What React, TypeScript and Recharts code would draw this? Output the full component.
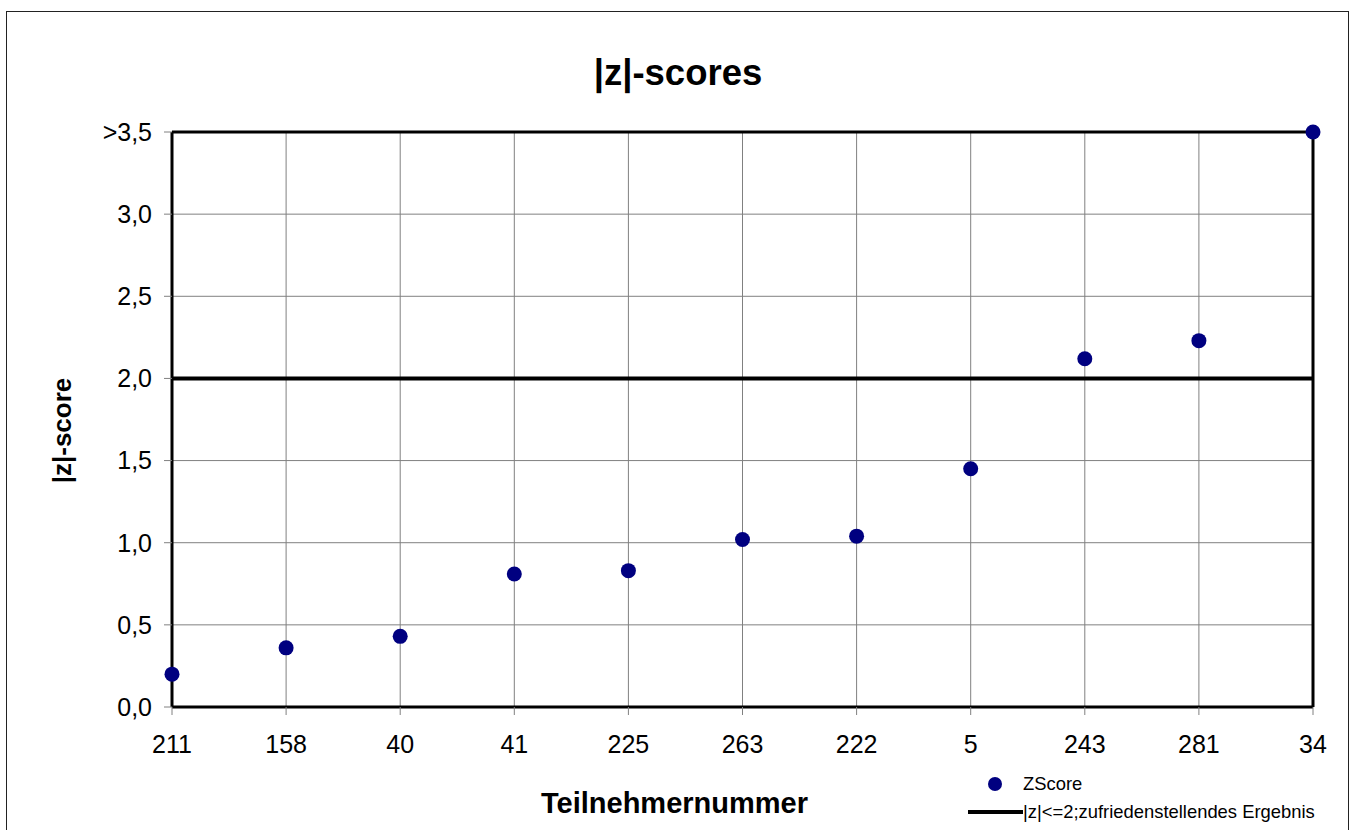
import {
  ComposedChart,
  Line,
  XAxis,
  YAxis,
  CartesianGrid,
  ReferenceLine,
  Legend,
} from 'recharts';

const participants = ['211', '158', '40', '41', '225', '263', '222', '5', '243', '281', '34'];
const zScores = [0.2, 0.36, 0.43, 0.81, 0.83, 1.02, 1.04, 1.45, 2.12, 2.23, 3.5];
const limitValue = 2;
const yTicks = [0, 0.5, 1, 1.5, 2, 2.5, 3, 3.5];

const FONT = '"Liberation Sans", Arial, sans-serif';
const DOT_COLOR = '#000080';

const data = participants.map((id, i) => ({
  id,
  z: zScores[i],
  limit: limitValue,
}));

const formatY = (v: number) => (v === 3.5 ? '>3,5' : v.toFixed(1).replace('.', ','));

function LegendBox() {
  return (
    <div style={{ fontFamily: FONT, color: '#000' }}>
      <div style={{ display: 'flex', alignItems: 'center', height: 28 }}>
        <div style={{ width: 57, display: 'flex', justifyContent: 'center' }}>
          <div style={{ width: 14, height: 14, borderRadius: 7, background: DOT_COLOR }} />
        </div>
        <span style={{ fontSize: 18.4 }}>ZScore</span>
      </div>
      <div style={{ display: 'flex', alignItems: 'center', height: 28 }}>
        <div style={{ width: 55, height: 4, background: '#000', marginLeft: 2 }} />
        <span style={{ fontSize: 18.4 }}>|z|&lt;=2;zufriedenstellendes Ergebnis</span>
      </div>
    </div>
  );
}

export default function App() {
  return (
    <div style={{ position: 'absolute', left: 0, top: 0, width: 1356, height: 830, overflow: 'hidden', background: '#fff' }}>
      <div
        style={{
          position: 'absolute',
          left: 6,
          top: 11,
          width: 1341,
          height: 840,
          border: '1.5px solid #222',
        }}
      />
      <div
        style={{
          position: 'absolute',
          left: 0,
          width: 1356,
          top: 51,
          textAlign: 'center',
          fontFamily: FONT,
          fontWeight: 'bold',
          fontSize: 36.5,
          lineHeight: '44px',
        }}
      >
        |z|-scores
      </div>
      <ComposedChart
        width={1356}
        height={830}
        data={data}
        margin={{ top: 132, right: 43, left: 0, bottom: 0 }}
        style={{ position: 'absolute', left: 0, top: 0, fontFamily: FONT }}
      >
        <CartesianGrid stroke="#808080" strokeWidth={1} />
        <XAxis
          dataKey="id"
          type="category"
          scale="point"
          padding={{ left: 0, right: 0 }}
          height={123}
          axisLine={{ stroke: '#000', strokeWidth: 3 }}
          tickLine={{ stroke: '#808080' }}
          tickSize={8}
          tickMargin={20}
          tick={{ fill: '#000', fontSize: 25, fontFamily: FONT }}
          interval={0}
          label={{
            value: 'Teilnehmernummer',
            position: 'center',
            dx: -68,
            dy: 34,
            style: { fontSize: 29, fontWeight: 'bold', fill: '#000', fontFamily: FONT },
          }}
        />
        <YAxis
          domain={[0, 3.5]}
          ticks={yTicks}
          width={172}
          axisLine={{ stroke: '#000', strokeWidth: 3 }}
          tickLine={{ stroke: '#808080' }}
          tickSize={8}
          tickMargin={12}
          tickFormatter={formatY}
          tick={{ fill: '#000', fontSize: 25, fontFamily: FONT }}
          label={{
            value: '|z|-score',
            angle: -90,
            position: 'center',
            dx: -24,
            dy: 11,
            style: { fontSize: 26, fontWeight: 'bold', fill: '#000', fontFamily: FONT },
          }}
        />
        <ReferenceLine y={3.5} stroke="#000" strokeWidth={3} />
        <ReferenceLine x="34" stroke="#000" strokeWidth={3} />
        <Line
          dataKey="limit"
          name="|z|<=2;zufriedenstellendes Ergebnis"
          stroke="#000"
          strokeWidth={4}
          dot={false}
          activeDot={false}
          isAnimationActive={false}
        />
        <Line
          dataKey="z"
          name="ZScore"
          stroke="none"
          dot={{ r: 7.5, fill: DOT_COLOR, stroke: 'none' }}
          activeDot={false}
          isAnimationActive={false}
        />
        <Legend
          layout="horizontal"
          verticalAlign="middle"
          align="center"
          wrapperStyle={{ position: 'absolute', left: 966, top: 770, width: 390 }}
          content={() => <LegendBox />}
        />
      </ComposedChart>
    </div>
  );
}
